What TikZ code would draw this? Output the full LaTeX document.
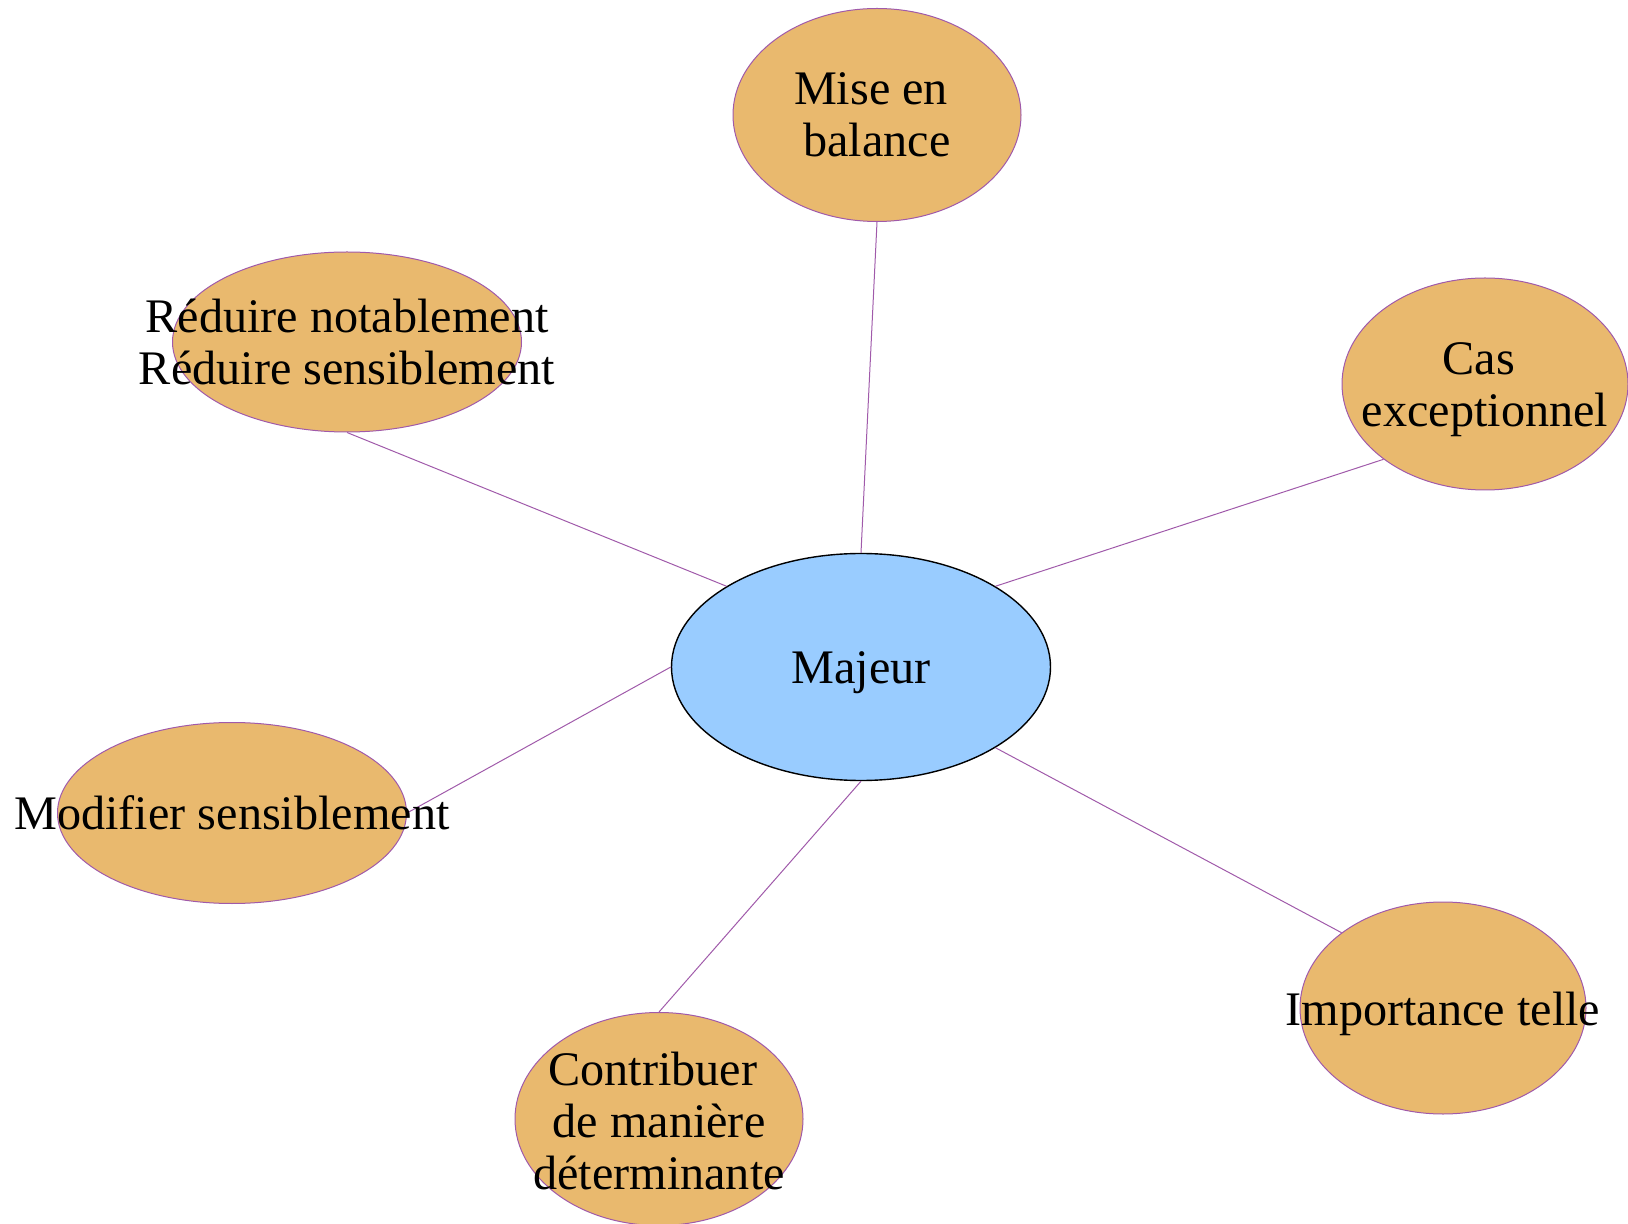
\documentclass[tikz,border=0pt]{standalone}
\usepackage{fontspec}
\setmainfont{Liberation Serif}
\usetikzlibrary{shapes.geometric}
\definecolor{leaffill}{RGB}{233,185,110}
\definecolor{hubfill}{RGB}{153,204,255}
\definecolor{linkline}{RGB}{160,90,170}
\begin{document}
\begin{tikzpicture}[x=0.5pt,y=-0.5pt,
    hub/.style={ellipse,draw=black,line width=0.7pt,fill=hubfill,inner sep=0pt,
      minimum width=189.5pt,minimum height=113.5pt},
    leaf/.style={ellipse,draw=linkline,line width=0.5pt,fill=leaffill,inner sep=0pt},
    link/.style={draw=linkline,line width=0.5pt},
    txt/.style={align=center,inner sep=0pt,font=\fontsize{24.1}{26}\selectfont}]
  \useasboundingbox (0,0) rectangle (1628,1224);
  % ellipses
  \node[hub] (majeur) at (861,667) {};
  \node[leaf,minimum width=144pt,minimum height=106.5pt] (mise) at (877,115) {};
  \node[leaf,minimum width=174.5pt,minimum height=90pt] (reduire) at (347,342) {};
  \node[leaf,minimum width=143pt,minimum height=106pt] (cas) at (1485,384) {};
  \node[leaf,minimum width=174.5pt,minimum height=90.5pt] (modifier) at (232,813) {};
  \node[leaf,minimum width=144pt,minimum height=106.5pt] (contribuer) at (659,1119) {};
  \node[leaf,minimum width=143pt,minimum height=106pt] (importance) at (1443,1008) {};
  % links
  \draw[link] (majeur.north) -- (mise.south);
  \draw[link] (majeur.north west) -- (reduire.south);
  \draw[link] (majeur.north east) -- (cas.south west);
  \draw[link] (majeur.west) -- (modifier.east);
  \draw[link] (majeur.south) -- (contribuer.north);
  \draw[link] (majeur.south east) -- (importance.north west);
  % texts
  \node[txt,yshift=-3pt] (majeur-t) at (majeur.center) {Majeur};
  \node[txt] (mise-t) at (mise.center) {Mise en\hspace{0.25em}\mbox{}\\ balance};
  \node[txt] (reduire-t) at (reduire.center) {Réduire notablement\\Réduire sensiblement};
  \node[txt,yshift=-3pt] (cas-t) at (cas.center) {Cas\hspace{0.25em}\mbox{}\\exceptionnel};
  \node[txt] (modifier-t) at (modifier.center) {Modifier sensiblement};
  \node[txt,yshift=-1pt] (contribuer-t) at (contribuer.center) {Contribuer\hspace{0.25em}\mbox{}\\de manière\\déterminante};
  \node[txt,yshift=-3pt] (importance-t) at (importance.center) {Importance telle};
\end{tikzpicture}
\end{document}
